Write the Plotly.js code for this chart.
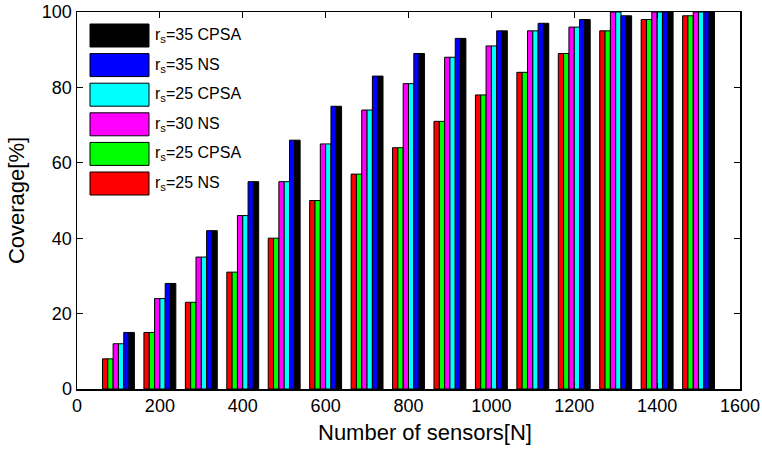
<!DOCTYPE html>
<html>
<head>
<meta charset="utf-8">
<script src="https://cdn.plot.ly/plotly-3.0.1.min.js"></script>
<style>html,body{margin:0;padding:0;background:#fff;}#chart{width:762px;height:449px;}</style>
</head>
<body>
<div id="chart"></div>
<script>
// Number of sensors (group positions)
const sensors = [100, 200, 300, 400, 500, 600, 700, 800, 900, 1000, 1100, 1200, 1300, 1400, 1500];

// Series (left-to-right within each group)
const seriesNames = ["r<sub>s</sub>=25 NS", "r<sub>s</sub>=25 CPSA", "r<sub>s</sub>=30 NS", "r<sub>s</sub>=25 CPSA", "r<sub>s</sub>=35 NS", "r<sub>s</sub>=35 CPSA"];
const seriesColors = ["#ff0000", "#00ff00", "#ff00ff", "#00ffff", "#0000ff", "#000000"];

const rs25NS   = [8, 15, 23, 31, 40, 50, 57, 64, 71, 78, 84, 89, 95, 98, 99];
const rs25CPSA = [8, 15, 23, 31, 40, 50, 57, 64, 71, 78, 84, 89, 95, 98, 99];
const rs30NS   = [12, 24, 35, 46, 55, 65, 74, 81, 88, 91, 95, 96, 100, 100, 100];
const rs25CPSAb= [12, 24, 35, 46, 55, 65, 74, 81, 88, 91, 95, 96, 100, 100, 100];
const rs35NS   = [15, 28, 42, 55, 66, 75, 83, 89, 93, 95, 97, 98, 99, 100, 100];
const rs35CPSA = [15, 28, 42, 55, 66, 75, 83, 89, 93, 95, 97, 98, 99, 100, 100];

const seriesValues = [rs25NS, rs25CPSA, rs30NS, rs25CPSAb, rs35NS, rs35CPSA];

const xTicks = [0, 200, 400, 600, 800, 1000, 1200, 1400, 1600];
const yTicks = [0, 20, 40, 60, 80, 100];
const xTitle = "Number of sensors[N]";
const yTitle = "Coverage[%]";

const FONT = "Liberation Sans, Arial, Helvetica, sans-serif";

const traces = seriesValues.map((vals, i) => ({
  type: "bar",
  x: sensors,
  y: vals,
  name: seriesNames[i],
  marker: {color: seriesColors[i], line: {color: "#000", width: 1}},
  showlegend: false,
  hoverinfo: "skip"
}));

// Custom legend (top-left, reversed order as in the reference)
const shapes = [];
const annotations = [];
const plotL = 77, plotR = 740, plotT = 12, plotB = 389;
const pw = plotR - plotL, ph = plotB - plotT;
const rowTop0 = 24, rowStep = 29.6, swH = 23, swX0 = 90, swX1 = 149, txtX = 153;
for (let k = 0; k < seriesNames.length; k++) {
  const i = seriesNames.length - 1 - k;
  const top = rowTop0 + k * rowStep;
  shapes.push({
    type: "rect", xref: "paper", yref: "paper",
    x0: (swX0 - plotL) / pw, x1: (swX1 - plotL) / pw,
    y0: (plotB - (top + swH)) / ph, y1: (plotB - top) / ph,
    fillcolor: seriesColors[i], line: {color: "#000", width: 1}
  });
  annotations.push({
    xref: "paper", yref: "paper",
    x: (txtX - plotL) / pw, y: (plotB - (top + swH / 2)) / ph,
    xanchor: "left", yanchor: "middle", showarrow: false,
    text: seriesNames[i], font: {family: FONT, size: 16, color: "#000"}
  });
}
// x-axis title (slightly right of centre, as in the reference)
annotations.push({
  xref: "paper", yref: "paper",
  x: (424.5 - plotL) / pw, y: (plotB - 433) / ph,
  xanchor: "center", yanchor: "middle", showarrow: false,
  text: xTitle, font: {family: FONT, size: 22, color: "#000"}
});

const layout = {
  width: 762, height: 449,
  margin: {l: 77, r: 22, t: 12, b: 60, pad: 0},
  paper_bgcolor: "#fff", plot_bgcolor: "#fff",
  barmode: "group", bargap: 0.23, bargroupgap: 0,
  font: {family: FONT, size: 18, color: "#000"},
  xaxis: {
    range: [0, 1600], tickvals: xTicks, ticktext: xTicks.map(String),
    ticks: "inside", ticklen: 6, tickwidth: 1, tickcolor: "#000",
    showline: true, linecolor: "#000", linewidth: 1.5, mirror: "ticks",
    showgrid: false, zeroline: false, automargin: false,
    tickfont: {family: FONT, size: 18}
  },
  yaxis: {
    range: [0, 100], tickvals: yTicks, ticktext: yTicks.map(String),
    ticks: "inside", ticklen: 6, tickwidth: 1, tickcolor: "#000",
    showline: true, linecolor: "#000", linewidth: 1.5, mirror: "ticks",
    showgrid: false, zeroline: false, automargin: false,
    tickfont: {family: FONT, size: 18},
    title: {text: yTitle, font: {family: FONT, size: 22}, standoff: 11}
  },
  shapes: shapes,
  annotations: annotations
};

Plotly.newPlot("chart", traces, layout, {displayModeBar: false, staticPlot: true});
</script>
</body>
</html>
